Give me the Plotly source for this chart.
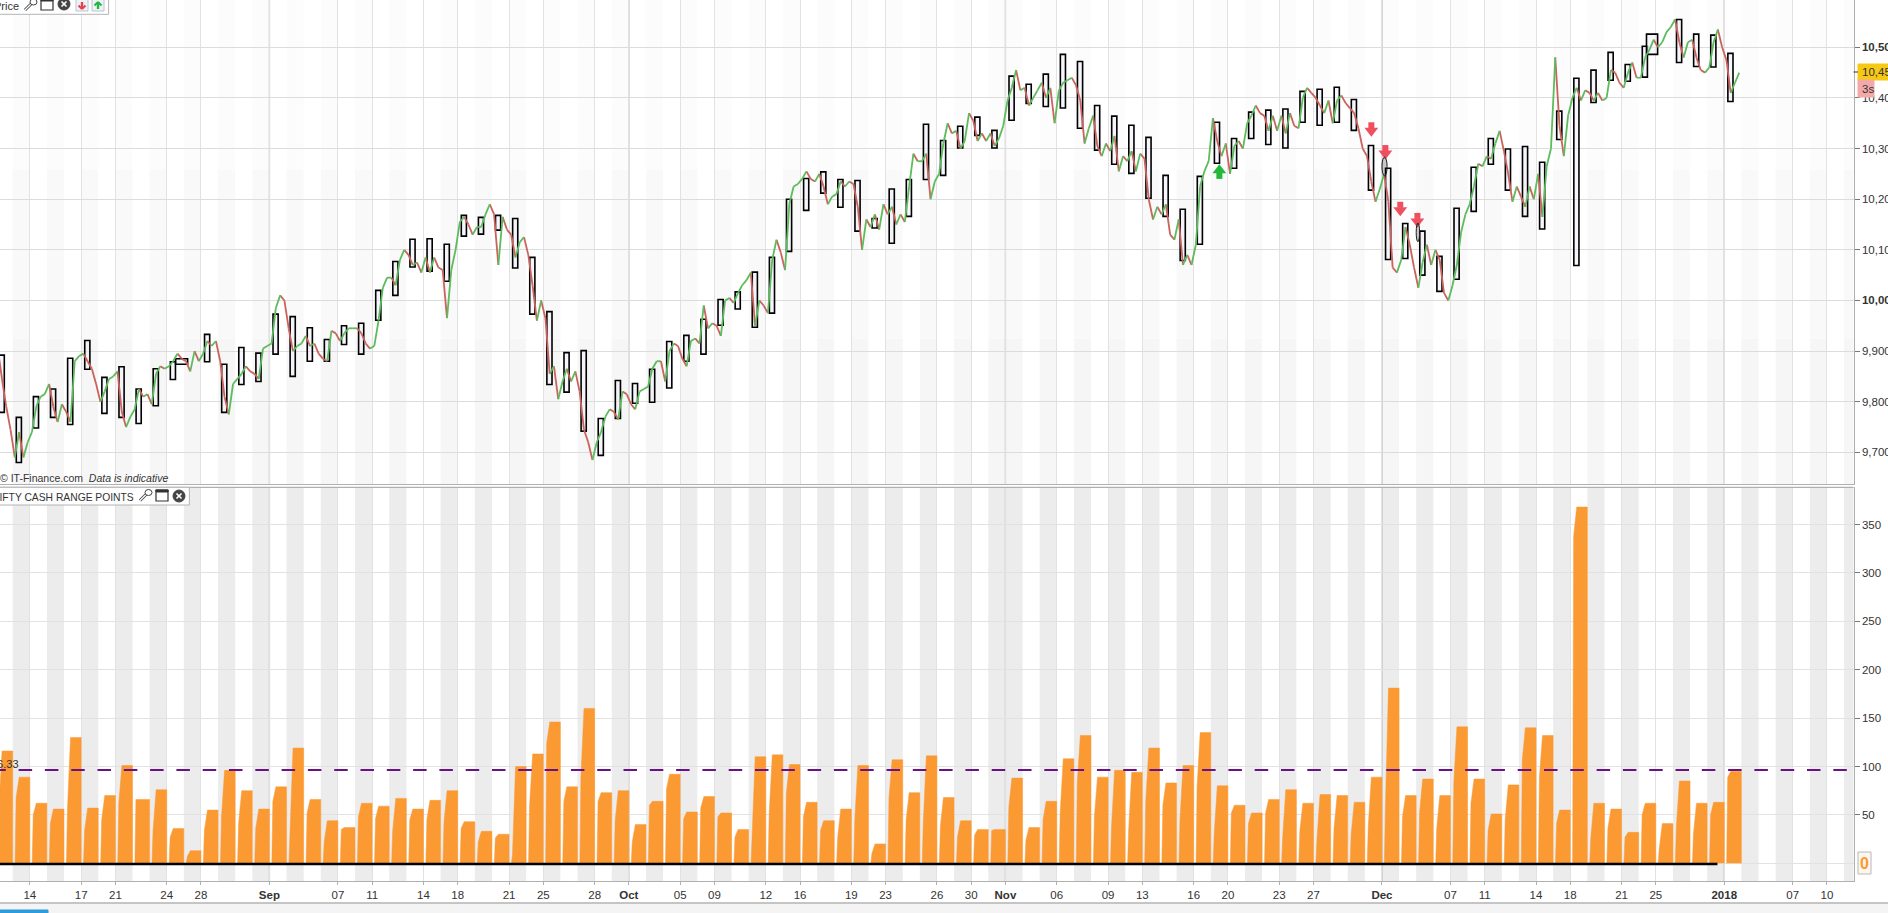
import plotly.graph_objects as go
from plotly.subplots import make_subplots

W, H = 1888, 913
FONT = "Liberation Sans, Arial"
ORANGE = "#fb9933"

# one entry per trading session, first one is partly off the left edge
sessions = list(range(-1, 101))

range_points = [
    116, 89, 62, 56, 130, 57, 70, 101, 66, 76, 36, 13, 55, 96, 75, 56, 79, 119, 66, 44,
    37, 62, 59, 67, 56, 65, 75, 43, 33, 30, 100, 113, 146, 79, 160, 73, 75, 40, 64, 92,
    53, 69, 52, 35, 110, 112, 102, 63, 44, 56, 101, 20, 107, 73, 111, 68, 44, 35, 35, 88,
    37, 64, 108, 132, 89, 96, 94, 119, 83, 101, 135, 80, 60, 52, 66, 76, 62, 71, 70, 63,
    89, 181, 70, 87, 70, 141, 87, 51, 81, 140, 132, 55, 368, 62, 56, 32, 62, 41, 85, 62,
    63, 95,
]
# level of the step on the left slope of each bar (range earlier in the day)
early_range = [
    60, 68, 50, 41, 55, 34, 45, 62, 66, 33, 27, 7, 34, 48, 41, 36, 64, 29, 52, 22,
    35, 48, 46, 33, 45, 45, 43, 36, 22, 26, 9, 60, 124, 64, 89, 64, 44, 22, 60, 77,
    46, 57, 48, 27, 29, 52, 72, 48, 34, 26, 45, 10, 68, 45, 41, 38, 27, 29, 34, 58,
    24, 45, 52, 84, 48, 38, 34, 64, 60, 46, 79, 31, 52, 41, 52, 27, 33, 24, 36, 30,
    38, 57, 48, 53, 36, 84, 62, 34, 45, 107, 89, 41, 338, 26, 36, 27, 50, 15, 38, 31,
    50, 89,
]
avg_range = 96.33

box_high = [
    9892, 9769, 9810, 9825, 9886, 9921, 9848, 9869, 9825, 9865, 9879, 9885, 9933, 9874, 9907, 9896, 9973, 9968, 9946, 9923,
    9950, 9955, 10020, 10077, 10121, 10122, 10111, 10168, 10164, 10168, 10162, 10085, 9978, 9897, 9901, 9767, 9842, 9836, 9864, 9919,
    9931, 9963, 10002, 10017, 10056, 10085, 10200, 10241, 10254, 10239, 10237, 10162, 10220, 10239, 10348, 10316, 10344, 10362, 10336, 10443,
    10427, 10447, 10486, 10472, 10385, 10364, 10346, 10322, 10247, 10180, 10245, 10352, 10320, 10372, 10376, 10378, 10413, 10417, 10421, 10397,
    10306, 10261, 10152, 10137, 10087, 10182, 10263, 10320, 10299, 10304, 10273, 10374, 10439, 10455, 10490, 10466, 10502, 10526, 10555, 10526,
    10524, 10488,
]
box_low = [
    9779, 9680, 9748, 9769, 9755, 9864, 9777, 9769, 9757, 9792, 9844, 9874, 9879, 9779, 9834, 9840, 9894, 9850, 9880, 9880,
    9913, 9894, 9961, 10010, 10066, 10058, 10038, 10127, 10131, 10139, 10064, 9973, 9834, 9819, 9742, 9694, 9767, 9797, 9799, 9827,
    9880, 9894, 9951, 9983, 9947, 9975, 10097, 10178, 10212, 10184, 10137, 10143, 10113, 10166, 10239, 10247, 10301, 10326, 10301, 10356,
    10389, 10383, 10380, 10340, 10297, 10269, 10251, 10202, 10166, 10079, 10111, 10271, 10261, 10320, 10308, 10301, 10352, 10346, 10352, 10336,
    10218, 10081, 10083, 10050, 10018, 10042, 10176, 10269, 10218, 10166, 10141, 10318, 10069, 10391, 10435, 10433, 10441, 10486, 10470, 10462,
    10461, 10393,
]

# price read four times per session
price_path = [
    9905, 9845, 9790, 9745,    9690, 9740, 9690, 9720,    9740, 9790, 9810, 9815,    9835, 9790, 9760, 9795,
    9780, 9760, 9880, 9890,    9895, 9880, 9865, 9835,    9800, 9820, 9845, 9850,    9860, 9780, 9750, 9770,
    9785, 9825, 9810, 9815,    9795, 9855, 9870, 9865,    9870, 9880, 9895, 9885,    9880, 9860, 9900, 9880,
    9895, 9920, 9910, 9920,    9880, 9810, 9775, 9835,    9845, 9855, 9870, 9860,    9855, 9845, 9905, 9910,
    9915, 9985, 10010, 10000,  9945, 9900, 9910, 9915,    9930, 9910, 9915, 9895,    9885, 9880, 9940, 9935,
    9920, 9935, 9945, 9945,    9945, 9935, 9915, 9905,    9910, 9960, 10025, 10045,  10045, 10030, 10080, 10100,
    10090, 10070, 10075, 10055, 10085, 10055, 10085, 10065, 10060, 9965, 10060, 10100, 10155, 10165, 10150, 10130,
    10145, 10145, 10170, 10190, 10170, 10070, 10165, 10140, 10130, 10085, 10115, 10125, 10090, 10030, 9960, 10000,
    9965, 9855, 9870, 9805,    9840, 9865, 9840, 9860,    9820, 9745, 9720, 9685,    9720, 9740, 9770, 9785,
    9780, 9765, 9820, 9815,    9795, 9785, 9820, 9825,    9830, 9865, 9880, 9880,    9840, 9900, 9915, 9910,
    9885, 9870, 9920, 9925,    9915, 9990, 9945, 9955,    9950, 9930, 10000, 10005,  9995, 10015, 10030, 10040,
    10055, 9950, 10000, 9990,  9975, 10080, 10120, 10095, 10060, 10190, 10225, 10230, 10240, 10255, 10240, 10235,
    10250, 10225, 10190, 10205, 10210, 10235, 10225, 10235, 10230, 10185, 10100, 10160, 10145, 10170, 10140, 10190,
    10170, 10185, 10150, 10170, 10155, 10225, 10290, 10275, 10275, 10290, 10200, 10235, 10250, 10310, 10350, 10330,
    10335, 10300, 10315, 10370, 10355, 10315, 10330, 10315, 10330, 10305, 10320, 10345, 10395, 10420, 10455, 10415,
    10420, 10385, 10400, 10415, 10430, 10400, 10420, 10350, 10415, 10430, 10435, 10440, 10425, 10395, 10310, 10340,
    10365, 10305, 10285, 10310, 10295, 10325, 10255, 10285, 10275, 10295, 10255, 10290, 10280, 10200, 10160, 10185,
    10170, 10190, 10130, 10120, 10160, 10070, 10090, 10070, 10110, 10225, 10255, 10275, 10360, 10315, 10285, 10310,
    10250, 10305, 10315, 10300, 10350, 10365, 10385, 10370, 10365, 10335, 10365, 10335, 10365, 10330, 10370, 10345,
    10340, 10400, 10420, 10410, 10400, 10385, 10370, 10395, 10350, 10395, 10405, 10390, 10380, 10370, 10340, 10300,
    10285, 10235, 10195, 10220, 10250, 10195, 10065, 10055, 10080, 10145, 10110, 10065, 10025, 10075, 10110, 10070,
    10100, 10080, 10015, 10000, 10030, 10070, 10135, 10170, 10190, 10225, 10270, 10265, 10285, 10280, 10310, 10335,
    10295, 10250, 10195, 10225, 10205, 10185, 10225, 10200, 10250, 10165, 10265, 10300, 10480, 10345, 10285, 10365,
    10400, 10420, 10395, 10415, 10410, 10395, 10410, 10395, 10400, 10455, 10450, 10430, 10420, 10450, 10470, 10440,
    10440, 10480, 10495, 10515, 10500, 10510, 10530, 10540, 10555, 10510, 10480, 10510, 10515, 10480, 10455, 10450,
    10460, 10510, 10535, 10500, 10475, 10410, 10430, 10450,
]

tick_sessions = [0, 3, 5, 8, 10, 14, 18, 20, 23, 25, 28, 30, 33, 35, 38, 40, 43, 45, 48, 50, 53, 55, 57,
                 60, 63, 65, 68, 70, 73, 75, 79, 83, 85, 88, 90, 93, 95, 99, 103, 105]
tick_labels = ["14", "17", "21", "24", "28", "<b>Sep</b>", "07", "11", "14", "18", "21", "25", "28", "<b>Oct</b>",
               "05", "09", "12", "16", "19", "23", "26", "30", "<b>Nov</b>", "06", "09", "13", "16", "20", "23",
               "27", "<b>Dec</b>", "07", "11", "14", "18", "21", "25", "<b>2018</b>", "07", "10"]
month_sessions = [14, 35, 57, 79, 99]

shaded_sessions = [-1, 1, 3, 5, 7, 9, 11, 13, 15, 17, 19, 21, 24, 26, 28, 30, 32, 34, 36, 38, 40, 42, 44, 46, 48,
                   50, 52, 54, 56, 57, 59, 61, 63, 65, 67, 69, 71, 73, 75, 77, 79, 81, 83, 85, 87, 89, 91, 93,
                   96, 98, 100, 102, 104, 106]

price_ticks = [9700, 9800, 9900, 10000, 10100, 10200, 10300, 10400, 10500]
price_tick_labels = ["9,700", "9,800", "9,900", "<b>10,000</b>", "10,100", "10,200", "10,300", "10,400", "<b>10,500</b>"]
range_ticks = [50, 100, 150, 200, 250, 300, 350]

sell_x = [78.38, 79.2, 80.07, 81.07]
sell_y = [10341, 10296, 10184, 10162]
buy_x = [69.5]
buy_y = [10251]
oval_x = [(79.0, 79.3), (81.0, 81.2)]
oval_y = [(10246, 10283), (10116, 10153)]


def px(x):
    return x / W


def py(y):
    return 1 - y / H


def paper_rect(x0, y0, x1, y1, fill="rgba(0,0,0,0)", line="rgba(0,0,0,0)", width=1, layer="above"):
    return dict(type="rect", xref="paper", yref="paper", x0=px(x0), x1=px(x1), y0=py(y1), y1=py(y0),
                fillcolor=fill, line=dict(color=line, width=width), layer=layer)


def paper_line(x0, y0, x1, y1, color="#444444", width=1):
    return dict(type="line", xref="paper", yref="paper", x0=px(x0), x1=px(x1), y0=py(y0), y1=py(y1),
                line=dict(color=color, width=width), layer="above")


def paper_circle(x0, y0, x1, y1, fill, line="#444444"):
    return dict(type="circle", xref="paper", yref="paper", x0=px(x0), x1=px(x1), y0=py(y1), y1=py(y0),
                fillcolor=fill, line=dict(color=line, width=1), layer="above")


def wrench(x0, y0):
    return [paper_line(x0 + 1, y0 + 11, x0 + 8, y0 + 4, "#444444", 3),
            paper_line(x0 + 1, y0 + 11, x0 + 8, y0 + 4, "white", 1.2),
            paper_circle(x0 + 6, y0, x0 + 13, y0 + 6, "white")]


def window(x0, y0):
    return [paper_rect(x0, y0, x0 + 12, y0 + 11, "white", "#333333", 1.2),
            paper_rect(x0, y0, x0 + 12, y0 + 2, "#333333", "#333333", 1)]


def close_icon(x0, y0):
    return [paper_circle(x0, y0, x0 + 12, y0 + 12, "#444444"),
            paper_line(x0 + 3.5, y0 + 3.5, x0 + 8.5, y0 + 8.5, "white", 1.6),
            paper_line(x0 + 3.5, y0 + 8.5, x0 + 8.5, y0 + 3.5, "white", 1.6)]


def arrow_icon(x0, y0, color, down):
    tip, tail = (y0 + 9, y0 + 2) if down else (y0 + 2, y0 + 9)
    return [paper_rect(x0, y0 - 1, x0 + 12, y0 + 11, "#eef2f8", "#b8c4d4", 1),
            paper_line(x0 + 6, tail, x0 + 6, tip, color, 2.4),
            paper_line(x0 + 2.5, (tip + tail) / 2, x0 + 6, tip, color, 2),
            paper_line(x0 + 9.5, (tip + tail) / 2, x0 + 6, tip, color, 2)]


fig = make_subplots(rows=2, cols=1, shared_xaxes=True)

# intraday price, green when rising and red when falling
path_x = [k - 1 + (j + 0.5) / 4 for k in sessions for j in range(4)]
up_x, up_y, down_x, down_y = [], [], [], []
for i in range(1, len(price_path)):
    if price_path[i] >= price_path[i - 1]:
        up_x += [path_x[i - 1], path_x[i], None]
        up_y += [price_path[i - 1], price_path[i], None]
    else:
        down_x += [path_x[i - 1], path_x[i], None]
        down_y += [price_path[i - 1], price_path[i], None]
fig.add_trace(go.Scatter(x=down_x, y=down_y, mode="lines", line=dict(color="#c9635c", width=1.8)), row=1, col=1)
fig.add_trace(go.Scatter(x=up_x, y=up_y, mode="lines", line=dict(color="#5cbb5c", width=1.8)), row=1, col=1)

# daily boxes, two of them are drawn wider and shifted
box_x = [k - 0.64 for k in sessions]
box_w = [0.3 for k in sessions]
box_x[sessions.index(10)] = 8.87
box_w[sessions.index(10)] = 0.7
box_x[sessions.index(96)] = 94.78
box_w[sessions.index(96)] = 0.65
fig.add_trace(go.Bar(x=box_x, base=box_low, y=[h - l for h, l in zip(box_high, box_low)], width=box_w,
                     marker=dict(color="rgba(238,238,250,0.55)", line=dict(color="black", width=1.6))),
              row=1, col=1)

for ox, oy in zip(oval_x, oval_y):
    fig.add_shape(type="circle", x0=ox[0], x1=ox[1], y0=oy[0], y1=oy[1], fillcolor="rgba(0,0,0,0.2)",
                  line=dict(color="#222222", width=1), row=1, col=1)

# signal arrows, a head and a stem
fig.add_trace(go.Scatter(x=sell_x, y=[v + 5 for v in sell_y], mode="markers",
                         marker=dict(symbol="square", size=6, color="#ee5060")), row=1, col=1)
fig.add_trace(go.Scatter(x=sell_x, y=[v - 6 for v in sell_y], mode="markers",
                         marker=dict(symbol="triangle-down", size=12, color="#ee5060")), row=1, col=1)
fig.add_trace(go.Scatter(x=buy_x, y=[v - 5 for v in buy_y], mode="markers",
                         marker=dict(symbol="square", size=6, color="#22b83a")), row=1, col=1)
fig.add_trace(go.Scatter(x=buy_x, y=[v + 6 for v in buy_y], mode="markers",
                         marker=dict(symbol="triangle-up", size=12, color="#22b83a")), row=1, col=1)

# range bars with a sloped left side, one filled outline per session
bar_x, bar_y = [], []
for k, top, early in zip(sessions, range_points, early_range):
    bar_x += [k - 0.86, k - 0.8, k - 0.62, k, k, None]
    bar_y += [0, min(early, top), top, top, 0, None]
fig.add_trace(go.Scatter(x=bar_x, y=bar_y, mode="lines", fill="toself", fillcolor=ORANGE,
                         line=dict(color=ORANGE, width=0.5)), row=2, col=1)
fig.add_trace(go.Scatter(x=[-2.19, 107], y=[avg_range, avg_range], mode="lines",
                         line=dict(color="#6a1189", width=2, dash="13.5px,12.8px")), row=2, col=1)
fig.add_trace(go.Scatter(x=[-2, 98.6], y=[-0.7, -0.7], mode="lines", line=dict(color="black", width=2.4)), row=2, col=1)

shapes = []
# the bands fade towards the top of the price panel
for s in shaded_sessions:
    for y0, y1, fill in ((0, 0.3, "#f6f6f6"), (0.3, 0.65, "#f9f9f9"), (0.65, 1, "#fcfcfc")):
        shapes.append(dict(type="rect", xref="x", yref="y domain", x0=s, x1=s + 1, y0=y0, y1=y1,
                           fillcolor=fill, line=dict(width=0), layer="below"))
    shapes.append(dict(type="rect", xref="x", yref="y2 domain", x0=s, x1=s + 1, y0=0, y1=1,
                       fillcolor="#ececec", line=dict(width=0), layer="below"))
for row_ref in ("y", "y2"):
    for s in month_sessions:
        shapes.append(dict(type="line", xref="x", yref=row_ref + " domain", x0=s, x1=s, y0=0, y1=1,
                           line=dict(color="#c4c4c4", width=1.4), layer="below"))

# page furniture around the plot
shapes += [
    paper_rect(0, 903, W, H, "#f4f4f4", "#f4f4f4", layer="below"),
    paper_line(0, 903, W, 903, "#b4b4b4", 1.4),
    paper_line(0, 487.3, 1853.5, 487.3, "#b0b0b0", 1.2),
    paper_rect(0, 910, 48, H + 2, "#2d9bdc", "#2d9bdc"),
    paper_rect(-2, -2, 108.6, 14.3, "rgba(255,255,255,0.9)", "#b4b4b4", 1),
    paper_rect(-2, 487.3, 189.4, 505, "rgba(255,255,255,0.9)", "#b4b4b4", 1),
    paper_rect(1858, 64, W + 2, 80, "#f6c915", "#f6c915"),
    paper_rect(1858, 80, 1874, 97, "#f4a9a9", "#f4a9a9"),
    paper_line(1853.5, 72, 1858, 72, "#333333", 1),
    paper_rect(1858, 852, 1871, 874, "#fdf6ec", "#b8b8b8", 1),
]
shapes += wrench(24, -1) + window(41, -1) + close_icon(58, -2)
shapes += arrow_icon(76, 0, "#e8404a", True) + arrow_icon(92, 0, "#22b83a", False)
shapes += wrench(139, 489.5) + window(156, 490) + close_icon(173, 490)

annotations = [
    dict(text="Price", x=px(20), y=py(6.5), xanchor="right", yanchor="middle", font=dict(size=11, color="#333333")),
    dict(text="© IT-Finance.com  <i>Data is indicative</i>", x=px(169), y=py(478), xanchor="right", yanchor="middle",
         font=dict(size=10.5, color="#333333")),
    dict(text="NIFTY CASH RANGE POINTS", x=px(135), y=py(497), xanchor="right", yanchor="middle",
         font=dict(size=10.3, color="#333333")),
    dict(text="96.33", x=px(20), y=py(763.5), xanchor="right", yanchor="middle", font=dict(size=11, color="#333333")),
    dict(text="10,45", x=px(1860.5), y=py(72), xanchor="left", yanchor="middle", font=dict(size=11.5, color="#333333")),
    dict(text="3s", x=px(1860.5), y=py(89), xanchor="left", yanchor="middle", font=dict(size=11.5, color="#333333")),
    dict(text="<b>0</b>", x=px(1864.5), y=py(863.5), xanchor="center", yanchor="middle", font=dict(size=16, color=ORANGE)),
]
for a in annotations:
    a.update(xref="paper", yref="paper", showarrow=False, borderpad=0, bgcolor="rgba(0,0,0,0)")

x_axis = dict(range=[-1.741, 106.55], domain=[0, px(1853.5)], tickmode="array", tickvals=tick_sessions,
              showgrid=True, gridcolor="#e2e2e2", gridwidth=1, zeroline=False, showline=True,
              linecolor="#b0b0b0", linewidth=1.2)

fig.update_layout(
    width=W,
    height=H,
    template="none",
    margin=dict(l=0, r=0, t=0, b=0),
    showlegend=False,
    paper_bgcolor="white",
    plot_bgcolor="white",
    font=dict(family=FONT, size=11.5, color="#333333"),
    barmode="overlay",
    shapes=list(fig.layout.shapes) + shapes,
    annotations=annotations,
    xaxis=dict(x_axis, showticklabels=False, ticks=""),
    xaxis2=dict(x_axis, ticktext=tick_labels, ticks="outside", ticklen=3, tickcolor="#b0b0b0",
                tickfont=dict(family=FONT, size=11.5, color="#333333")),
    yaxis=dict(domain=[py(484), 1], range=[9637.5, 10593.4], side="right", tickmode="array",
               tickvals=price_ticks, ticktext=price_tick_labels, gridcolor="#dcdcdc", zeroline=False,
               showline=True, linecolor="#b0b0b0", linewidth=1.2, ticks="outside", ticklen=5, tickcolor="#777777",
               tickfont=dict(family=FONT, size=11.5, color="#333333")),
    yaxis2=dict(domain=[py(881.3), py(487.3)], range=[-18.6, 388.4], side="right", tickmode="array",
                tickvals=range_ticks, gridcolor="#e2e2e2", zeroline=True, zerolinecolor="#e2e2e2",
                showline=True, linecolor="#b0b0b0", linewidth=1.2, ticks="outside", ticklen=5, tickcolor="#777777",
                tickfont=dict(family=FONT, size=11.5, color="#333333")),
)

fig.write_html("out.html", config={"displayModeBar": False},
               post_script="document.body.style.margin='0';document.body.style.overflow='hidden';")
